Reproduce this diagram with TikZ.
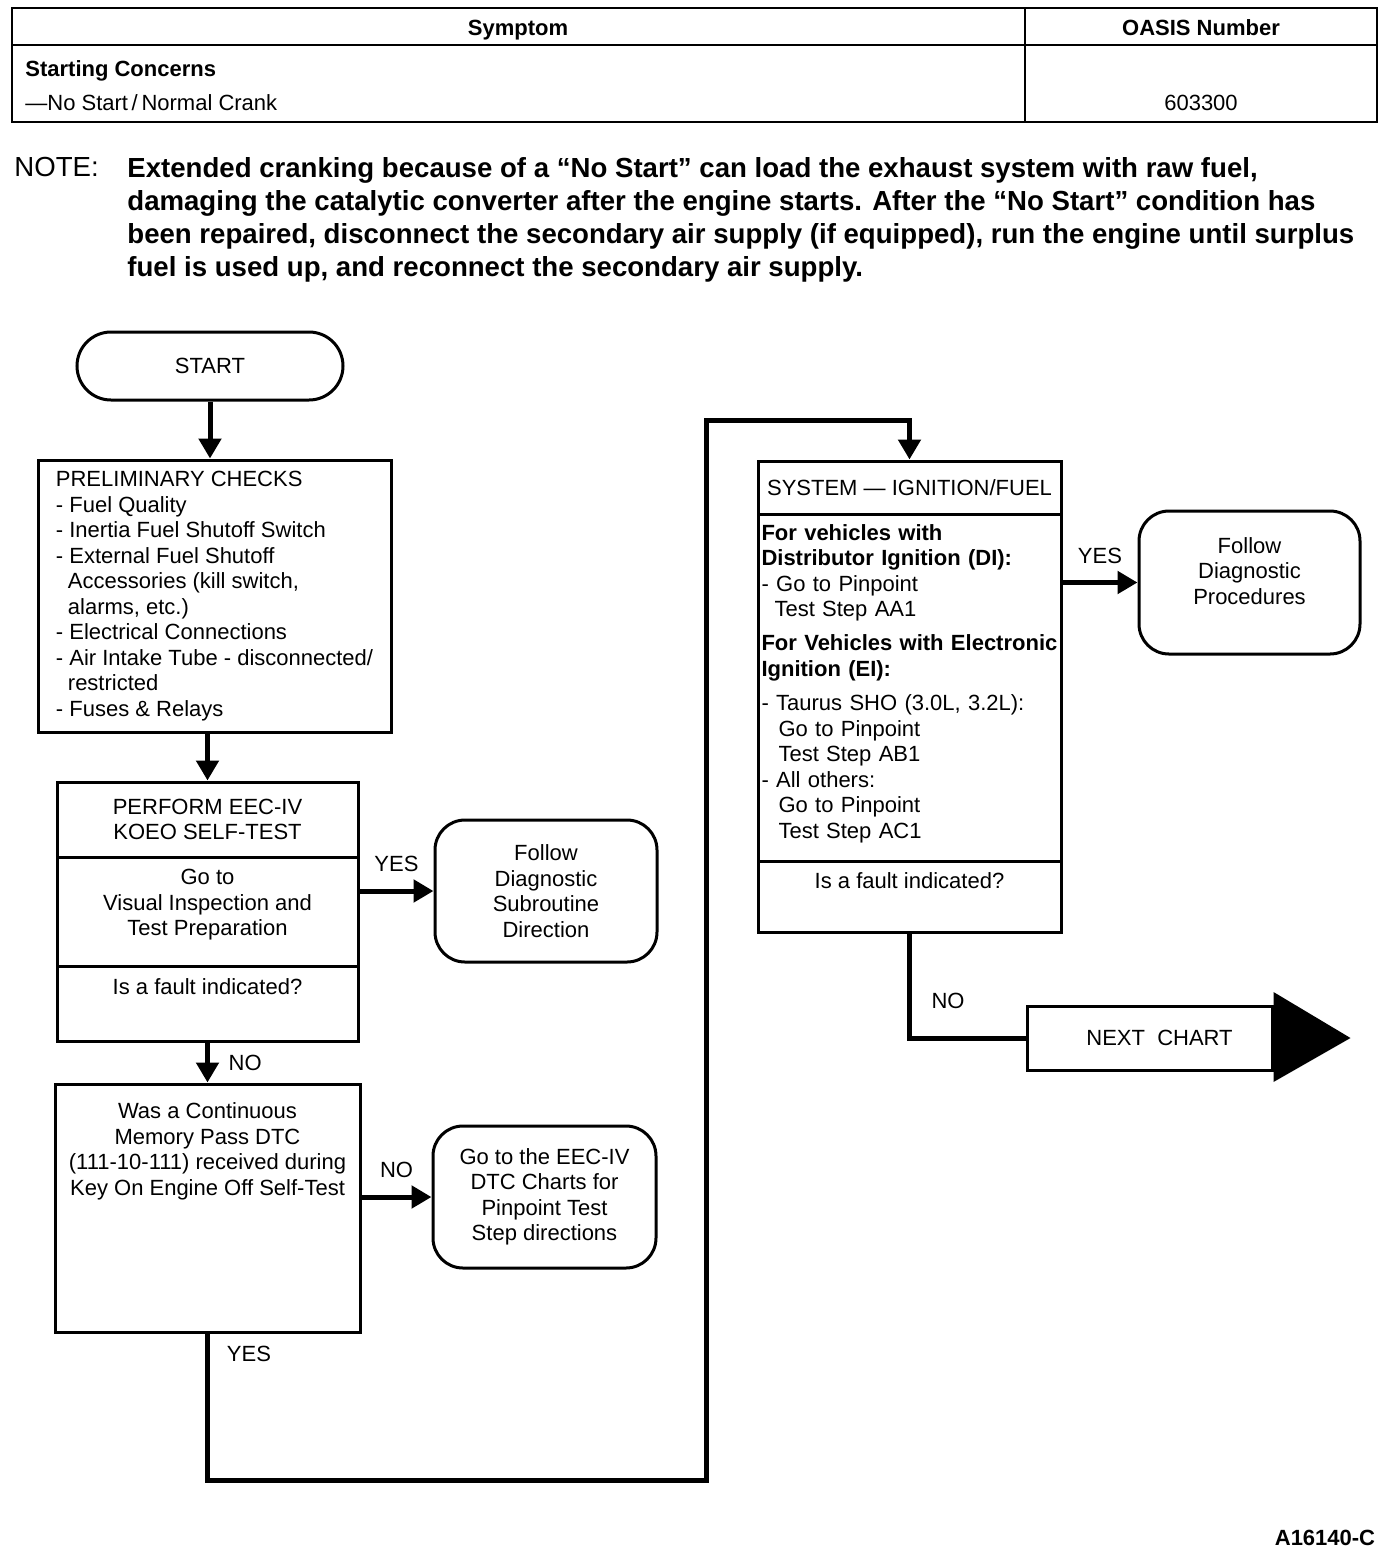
\documentclass[tikz,border=0pt]{standalone}
\usepackage{fontspec}
\setmainfont{Liberation Sans}
\usetikzlibrary{arrows.meta,positioning}

\newcommand{\chartfont}{\fontsize{11}{12.75}\selectfont}
\newcommand{\notefont}{\fontsize{13.8}{16.5}\selectfont}

\tikzset{
  box/.style={draw, line width=1.5pt, inner sep=0pt, align=center},
  term/.style={box, rounded corners=15pt},
  flow/.style={line width=2.5pt, -{Triangle[length=10pt,width=11pt]}},
  wire/.style={line width=2.5pt},
  tbl/.style={line width=1.2pt},
  head/.style={font=\chartfont\bfseries, text height=8pt, text depth=2.5pt},
}

\begin{document}
\begin{tikzpicture}[x=0.5pt,y=-0.5pt,font=\chartfont]
\useasboundingbox (0,0) rectangle (1392,1554);

% symptom table
\draw[tbl] (12,8) rectangle (1377,122);
\draw[tbl] (12,45) -- (1377,45);
\draw[tbl] (1025,8) -- (1025,122);
\node[head] (symhead) at (518,30) {Symptom};
\node[head] (oasishead) at (1201,30) {OASIS Number};
\node[anchor=west, inner sep=0pt, font=\chartfont\bfseries] (concern) at (25,71) {Starting Concerns};
\node[anchor=west, inner sep=0pt] (crank) at (25,103) {---No Start\,/\,Normal Crank};
\node (oasisnum) at (1201,103) {603300};

% note
\node[anchor=north west, inner sep=0pt, font=\notefont] (notehead) at (14,157) {NOTE:};
\node[anchor=north west, inner sep=0pt, align=left, font=\notefont\bfseries] (notetext) at (127,157)
  {Extended cranking because of a ``No Start'' can load the exhaust system with raw fuel,\\
   damaging the catalytic converter after the engine starts. After the ``No Start'' condition has\\
   been repaired, disconnect the secondary air supply (if equipped), run the engine until surplus\\
   fuel is used up, and reconnect the secondary air supply.};

% left column
\node[box, rounded corners=17pt, minimum width=133pt, minimum height=34pt] (start) at (210,366) {START};
\node[box, align=left, minimum width=176.5pt, minimum height=136pt] (prelim) at (214.5,596)
  {PRELIMINARY CHECKS\\
   - Fuel Quality\\
   - Inertia Fuel Shutoff Switch\\
   - External Fuel Shutoff\\
   \hspace*{6pt}Accessories (kill switch,\\
   \hspace*{6pt}alarms, etc.)\\
   - Electrical Connections\\
   - Air Intake Tube - disconnected/\\
   \hspace*{6pt}restricted\\
   - Fuses \& Relays};

\node[box, minimum width=150.5pt, minimum height=37.5pt] (performtitle) at (207.5,819.5)
  {PERFORM EEC-IV\\KOEO SELF-TEST};
\node[box, minimum width=150.5pt, minimum height=54.5pt, below=-1.5pt of performtitle] (performgoto)
  {Go to\\Visual Inspection and\\Test Preparation\\[-4pt]};
\node[box, minimum width=150.5pt, minimum height=37.5pt, below=-1.5pt of performgoto] (performfault) {};
\node[inner sep=0pt, below=7pt of performfault.north] (faultqa) {Is a fault indicated?};

\node[term, minimum width=111pt, minimum height=71pt] (follow1) at (546,891)
  {Follow\\Diagnostic\\Subroutine\\Direction};

\node[box, minimum width=152.5pt, minimum height=124pt] (was) at (207.5,1208) {};
\node[inner sep=0pt, align=center, below=10pt of was.north] (wastext)
  {Was a Continuous\\Memory Pass DTC\\(111-10-111) received during\\Key On Engine Off Self-Test};

\node[term, minimum width=111.5pt, minimum height=71pt] (dtc) at (544.5,1197)
  {Go to the EEC-IV\\DTC Charts for\\Pinpoint Test\\Step directions};

% right column
\node[box, minimum width=151.5pt, minimum height=26.5pt] (systemtitle) at (909.5,487.5)
  {SYSTEM --- IGNITION/FUEL};
\node[box, align=left, text width=148pt, inner xsep=1.75pt, minimum height=173.5pt, below=-1.5pt of systemtitle] (systembody)
  {\textbf{For vehicles with}\\
   \textbf{Distributor Ignition (DI):}\\
   - Go to Pinpoint\\
   \hspace*{6.5pt}Test Step AA1\\[4.25pt]
   \textbf{For Vehicles with Electronic}\\
   \textbf{Ignition (EI):}\\[4.5pt]
   - Taurus SHO (3.0L, 3.2L):\\
   \hspace*{8.5pt}Go to Pinpoint\\
   \hspace*{8.5pt}Test Step AB1\\
   - All others:\\
   \hspace*{8.5pt}Go to Pinpoint\\
   \hspace*{8.5pt}Test Step AC1\\[-6.75pt]
   \mbox{}};
\node[box, minimum width=151.5pt, minimum height=35.5pt, below=-1.5pt of systembody] (systemfault) {};
\node[inner sep=0pt, below=6.5pt of systemfault.north] (faultqb) {Is a fault indicated?};

\node[term, minimum width=110.5pt, minimum height=71.5pt] (follow2) at (1249.5,582.5)
  {Follow\\Diagnostic\\Procedures\\[-1.25pt]};

\node[box, minimum width=122.5pt, minimum height=32pt] (next) at (1149.5,1038)
  {\hspace*{10pt}NEXT\ \ CHART};
\fill (next.east) ++(0,-46) -- ++(77,46) -- ++(-77,44) -- cycle;

% connectors
\coordinate (bendlow) at (706,1480);
\coordinate (bendtop) at (706,420);

\draw[flow] (start.south) -- (start.south |- prelim.north);
\draw[flow] (performtitle.north |- prelim.south) -- (performtitle.north);
\draw[flow] (performgoto.east |- follow1.west) -- (follow1.west)
  node[midway, above=5pt] (yesa) {YES};
\draw[flow] (performfault.south) -- (was.north)
  node[midway, right=6pt] (noa) {NO};
\draw[flow] (was.east |- dtc.west) -- (dtc.west)
  node[midway, above=5pt] (nob) {NO};
\draw[flow] (was.south) |- (bendlow) -- (bendtop) -| (systemtitle.north);
\node (yesb) at (249,1354) {YES};
\draw[flow] (systembody.east |- follow2.west) -- (follow2.west)
  node[midway, above=5pt] (yesc) {YES};
\draw[wire] (systemfault.south) |- (next.west);
\node (noc) at (948,1001) {NO};

\node[font=\chartfont\bfseries] (figid) at (1325,1538) {A16140-C};
\end{tikzpicture}
\end{document}
